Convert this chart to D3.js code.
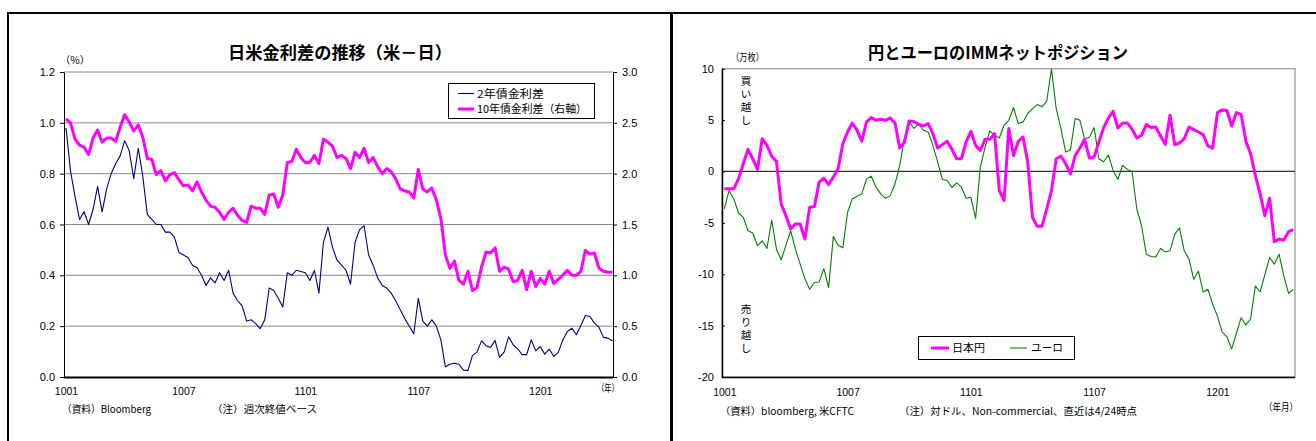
<!DOCTYPE html>
<html><head><meta charset="utf-8">
<script src="https://cdn.jsdelivr.net/npm/d3@7"></script>
<style>
html,body{margin:0;padding:0;background:#fff;}
svg{display:block;}
.jp{font-family:"Noto Sans CJK JP","Noto Sans",sans-serif;}
.num{font-family:"Liberation Sans",Arial,sans-serif;}
</style></head><body>
<svg id="c" width="1316" height="441"></svg>
<script>
// ---- 日米金利差（週次終値） ----
const spreadTickLabels = ["1001", "1007", "1101", "1107", "1201"];
const spreadTickIdx = [0, 26, 53, 78, 105];
const spreadLeftTicks = [0, 0.2, 0.4, 0.6, 0.8, 1.0, 1.2];
const spreadRightTicks = [0, 0.5, 1.0, 1.5, 2.0, 2.5, 3.0];
// 2年債金利差（左軸, %）
const spread2y = [
  0.98, 0.81, 0.71, 0.62, 0.65, 0.60, 0.66, 0.75, 0.65, 0.74,
  0.80, 0.84, 0.87, 0.93, 0.89, 0.78, 0.90, 0.79, 0.64, 0.62,
  0.60, 0.60, 0.57, 0.57, 0.55, 0.49, 0.48, 0.47, 0.44, 0.43,
  0.40, 0.36, 0.39, 0.37, 0.41, 0.38, 0.42, 0.33, 0.30, 0.28,
  0.22, 0.225, 0.21, 0.19, 0.225, 0.35, 0.34, 0.31, 0.275, 0.41,
  0.40, 0.42, 0.415, 0.41, 0.38, 0.42, 0.33, 0.53, 0.59, 0.51,
  0.46, 0.44, 0.42, 0.365, 0.53, 0.58, 0.595, 0.48, 0.44, 0.39,
  0.36, 0.35, 0.33, 0.30, 0.265, 0.23, 0.20, 0.17, 0.31, 0.22,
  0.20, 0.225, 0.20, 0.146, 0.04, 0.05, 0.054, 0.05, 0.027, 0.026,
  0.085, 0.098, 0.142, 0.123, 0.116, 0.144, 0.077, 0.098, 0.158, 0.127,
  0.111, 0.088, 0.088, 0.146, 0.103, 0.12, 0.09, 0.11, 0.081, 0.097,
  0.146, 0.179, 0.192, 0.166, 0.203, 0.242, 0.238, 0.212, 0.196, 0.156,
  0.153, 0.142
];
// 10年債金利差（右軸, %）
const spread10y = [
  2.54, 2.50, 2.34, 2.28, 2.26, 2.19, 2.35, 2.43, 2.31, 2.35,
  2.35, 2.32, 2.46, 2.58, 2.51, 2.42, 2.48, 2.36, 2.15, 2.14,
  1.99, 2.03, 1.93, 1.99, 2.01, 1.94, 1.88, 1.89, 1.83, 1.92,
  1.82, 1.74, 1.68, 1.67, 1.62, 1.55, 1.62, 1.66, 1.59, 1.54,
  1.52, 1.68, 1.66, 1.66, 1.60, 1.79, 1.80, 1.67, 1.79, 2.11,
  2.12, 2.24, 2.16, 2.11, 2.11, 2.18, 2.10, 2.34, 2.31, 2.27,
  2.16, 2.18, 2.15, 2.05, 2.21, 2.16, 2.25, 2.11, 2.16, 2.07,
  2.00, 2.05, 2.02, 1.95, 1.85, 1.83, 1.82, 1.76, 2.04, 1.85,
  1.82, 1.86, 1.74, 1.56, 1.20, 1.07, 1.14, 0.95, 0.915, 1.04,
  0.85, 0.88, 1.08, 1.23, 1.22, 1.27, 1.04, 1.08, 1.06, 0.94,
  0.95, 1.05, 0.86, 1.04, 0.89, 0.97, 0.915, 1.04, 0.92, 0.96,
  1.00, 1.05, 1.00, 1.00, 1.04, 1.245, 1.21, 1.22, 1.07, 1.04,
  1.03, 1.03
];

// ---- IMMネットポジション（万枚） ----
const immTickLabels = ["1001", "1007", "1101", "1107", "1201"];
const immTickIdx = [0, 26, 52, 78, 104];
const immTicks = [10, 5, 0, -5, -10, -15, -20];
const yenNet = [
  -1.69, -1.69, -1.69, -0.72, 0.75, 2.15, 1.24, 0.2, 3.19, 2.54,
  1.47, 0.98, -3.16, -4.3, -5.6, -5.11, -5.11, -6.58, -3.49, -3.42,
  -1.04, -0.65, -1.27, -0.55, 0.26, 2.70, 3.84, 4.72, 4.0, 2.96,
  4.82, 5.24, 4.98, 5.08, 4.98, 5.21, 4.72, 2.28, 2.87, 4.92,
  4.85, 4.59, 4.43, 4.66, 3.68, 2.28, 2.61, 2.93, 2.15, 1.24,
  1.24, 2.87, 3.91, 2.54, 2.05, 3.13, 3.13, 3.68, -1.86, -2.83,
  4.17, 1.56, 2.93, 3.36, 0.91, -4.46, -5.34, -5.34, -3.65, -1.86,
  1.24, 1.50, 0.75, -0.23, 1.56, 2.28, 3.13, 1.30, 1.40, 2.87,
  4.25, 5.2, 5.86, 4.23, 4.72, 4.72, 4.10, 3.26, 3.52, 4.56,
  4.27, 4.33, 3.45, 2.64, 5.47, 2.61, 2.77, 3.19, 4.33, 4.07,
  3.84, 3.58, 2.48, 2.28, 5.73, 5.99, 5.93, 4.43, 5.73, 5.54,
  2.93, 1.73, -0.39, -2.18, -4.3, -2.61, -6.84, -6.58, -6.68, -5.86,
  -5.67
];
const euroNet = [
  -3.65, -1.86, -2.67, -4.04, -4.46, -5.77, -5.99, -7.23, -6.74, -7.49,
  -4.72, -7.56, -8.6, -7.17, -5.77, -7.56, -9.02, -10.42, -11.47, -10.81,
  -10.75, -9.45, -11.3, -6.32, -7.17, -7.43, -3.97, -2.67, -2.41, -2.18,
  -0.72, -0.46, -1.53, -2.18, -2.61, -2.35, -1.2, 0.59, 3.19, 4.82,
  4.2, 4.66, 4.01, 3.84, 2.54, 0.91, -0.78, -0.88, -1.56, -1.11,
  -1.53, -2.61, -2.51, -4.56, 0.42, 2.38, 3.94, 3.52, 3.26, 4.50,
  4.98, 6.22, 4.66, 4.82, 5.64, 6.12, 6.51, 6.29, 6.84, 9.97,
  6.12, 4.17, 1.89, 2.12, 5.15, 4.98, 3.13, 3.36, 4.27, 1.24,
  0.95, 1.6, 0.10, -0.78, 0.59, 0.2, 0.0, -3.65, -5.28, -8.05,
  -8.27, -8.31, -7.49, -7.82, -7.72, -6.09, -5.5, -7.72, -8.53, -10.49,
  -9.71, -11.73, -11.47, -12.93, -14.07, -15.64, -16.09, -17.26, -15.77, -14.23,
  -14.95, -14.33, -11.14, -11.73, -10.03, -8.37, -9.02, -8.05, -10.16, -11.86,
  -11.47
];

const MAGENTA = "#ff00ff", NAVY = "#000080", GREEN = "#008000", GRID = "#8a8a8a";
const svg = d3.select("#c");

function txt(g, x, y, s, o = {}) {
  const t = g.append("text").attr("x", x).attr("y", y).text(s)
    .attr("class", o.cls || "jp")
    .attr("font-size", o.size || 10)
    .attr("fill", "#000");
  if (o.anchor) t.attr("text-anchor", o.anchor);
  if (o.weight) t.attr("font-weight", o.weight);
  if (o.len) t.attr("textLength", o.len).attr("lengthAdjust", "spacingAndGlyphs");
  return t;
}

// panel frames
svg.append("line").attr("x1", 7).attr("x2", 1316).attr("y1", 13).attr("y2", 13)
  .attr("stroke", "#000").attr("stroke-width", 2);
svg.append("line").attr("x1", 8).attr("x2", 8).attr("y1", 12).attr("y2", 441)
  .attr("stroke", "#000").attr("stroke-width", 2);
svg.append("line").attr("x1", 671.5).attr("x2", 671.5).attr("y1", 12).attr("y2", 441)
  .attr("stroke", "#000").attr("stroke-width", 3);

// ================= left: 日米金利差の推移 =================
{
  const g = svg.append("g");
  const P = { l: 64, r: 613, t: 72, b: 377 };
  const x = d3.scaleLinear().domain([0, spread2y.length - 1]).range([66, 612.5]);
  const yL = d3.scaleLinear().domain([0, 1.2]).range([P.b, P.t]);
  const yR = d3.scaleLinear().domain([0, 3.0]).range([P.b, P.t]);

  g.append("g").selectAll("line").data(spreadLeftTicks.filter(d => d > 0)).join("line")
    .attr("x1", P.l).attr("x2", P.r).attr("y1", d => yL(d)).attr("y2", d => yL(d))
    .attr("stroke", GRID).attr("stroke-width", 1);

  const axL = g.append("g").attr("transform", `translate(${P.l},0)`)
    .call(d3.axisLeft(yL).tickValues(spreadLeftTicks).tickFormat(d3.format(".1f"))
      .tickSizeInner(4).tickSizeOuter(0).tickPadding(5));
  const axR = g.append("g").attr("transform", `translate(${P.r},0)`)
    .call(d3.axisRight(yR).tickValues(spreadRightTicks).tickFormat(d3.format(".1f"))
      .tickSizeInner(4).tickSizeOuter(0).tickPadding(5));
  const axB = g.append("g").attr("transform", `translate(0,${P.b})`)
    .call(d3.axisBottom(x).tickValues(spreadTickIdx).tickFormat((d, i) => spreadTickLabels[i])
      .tickSize(0).tickPadding(11));
  axB.select(".domain").attr("d", `M${P.l},0.5H${P.r}`).attr("stroke-width", 2);
  [axL, axR, axB].forEach(a => {
    a.selectAll("text").attr("class", "num").attr("font-size", 11).attr("fill", "#000");
    a.selectAll(".domain").attr("stroke", "#000");
  });
  axB.selectAll("text").attr("font-size", 10.5);

  g.append("path").datum(spread2y)
    .attr("fill", "none").attr("stroke", NAVY).attr("stroke-width", 1.1)
    .attr("stroke-linejoin", "round")
    .attr("d", d3.line().x((d, i) => x(i)).y(d => yL(d)));
  g.append("path").datum(spread10y)
    .attr("fill", "none").attr("stroke", MAGENTA).attr("stroke-width", 3)
    .attr("stroke-linejoin", "round")
    .attr("d", d3.line().x((d, i) => x(i)).y(d => yR(d)));

  // legend
  g.append("rect").attr("x", 448.5).attr("y", 83.5).attr("width", 146).attr("height", 35)
    .attr("fill", "#fff").attr("stroke", "#000").attr("stroke-width", 1);
  g.append("line").attr("x1", 458).attr("x2", 474).attr("y1", 93.5).attr("y2", 93.5)
    .attr("stroke", NAVY).attr("stroke-width", 1.1);
  g.append("line").attr("x1", 458).attr("x2", 474).attr("y1", 109).attr("y2", 109)
    .attr("stroke", MAGENTA).attr("stroke-width", 3);
  txt(g, 477, 97.5, "2年債金利差", { size: 11, len: 67 });
  txt(g, 477, 113, "10年債金利差（右軸）", { size: 11, len: 110 });

  txt(g, 228, 59, "日米金利差の推移（米－日）", { size: 17, weight: 700, len: 224 });
  txt(g, 60, 64, "（%）", { size: 10, len: 30 });
  txt(g, 597, 392, "（年）", { size: 10, len: 22 });
  txt(g, 62, 413, "（資料）Bloomberg", { size: 10, len: 89 });
  txt(g, 212, 413, "（注）週次終値ベース", { size: 10, len: 105 });
}

// ================= right: 円とユーロのIMMネットポジション =================
{
  const g = svg.append("g");
  const P = { l: 722, r: 1295, t: 68.7, b: 377 };
  const x = d3.scaleLinear().domain([0, yenNet.length - 1]).range([724.3, 1293.3]);
  const y = d3.scaleLinear().domain([-20, 10]).range([P.b, P.t]);

  g.append("rect").attr("x", P.l).attr("y", P.t).attr("width", P.r - P.l).attr("height", P.b - P.t)
    .attr("fill", "none").attr("stroke", "#a6a6a6").attr("stroke-width", 1.5);
  g.append("line").attr("x1", P.l).attr("x2", P.r).attr("y1", y(0)).attr("y2", y(0))
    .attr("stroke", "#333").attr("stroke-width", 1.3);

  const axL = g.append("g").attr("transform", `translate(${P.l},0)`)
    .call(d3.axisLeft(y).tickValues(immTicks).tickFormat(d => String(d))
      .tickSizeInner(-3).tickSizeOuter(0).tickPadding(8));
  const axB = g.append("g").attr("transform", `translate(0,${P.b})`)
    .call(d3.axisBottom(x).tickValues(immTickIdx).tickFormat((d, i) => immTickLabels[i])
      .tickSize(0).tickPadding(12));
  axB.select(".domain").attr("d", `M${P.l},0.5H${P.r}`).attr("stroke-width", 1.5);
  axL.select(".domain").attr("stroke-width", 1.5);
  [axL, axB].forEach(a => {
    a.selectAll("text").attr("class", "num").attr("font-size", 11).attr("fill", "#000");
    a.selectAll(".domain").attr("stroke", "#000");
  });
  axB.selectAll("text").attr("font-size", 10.5);

  g.append("path").datum(euroNet)
    .attr("fill", "none").attr("stroke", GREEN).attr("stroke-width", 1.1)
    .attr("stroke-linejoin", "round")
    .attr("d", d3.line().x((d, i) => x(i)).y(d => y(d)));
  g.append("path").datum(yenNet)
    .attr("fill", "none").attr("stroke", MAGENTA).attr("stroke-width", 3)
    .attr("stroke-linejoin", "round")
    .attr("d", d3.line().x((d, i) => x(i)).y(d => y(d)));

  // stacked side notes, one glyph per line
  const vert = (chars, y0) => {
    chars.split("").forEach((c, i) =>
      g.append("text").attr("class", "jp").attr("font-size", 10.5)
        .attr("text-anchor", "middle").attr("fill", "#000")
        .attr("x", 746).attr("y", y0 + i * 13).text(c));
  };
  vert("買い越し", 85);
  vert("売り越し", 313);

  // legend
  g.append("rect").attr("x", 918.5).attr("y", 336.5).attr("width", 156).attr("height", 23)
    .attr("fill", "#fff").attr("stroke", "#000").attr("stroke-width", 1);
  g.append("line").attr("x1", 931).attr("x2", 949).attr("y1", 348).attr("y2", 348)
    .attr("stroke", MAGENTA).attr("stroke-width", 3);
  g.append("line").attr("x1", 1010).attr("x2", 1027).attr("y1", 348).attr("y2", 348)
    .attr("stroke", GREEN).attr("stroke-width", 1.1);
  txt(g, 952, 352, "日本円", { size: 11, len: 33 });
  txt(g, 1031, 352, "ユーロ", { size: 11, len: 32 });

  txt(g, 868, 59, "円とユーロのIMMネットポジション", { size: 17, weight: 700, len: 260 });
  txt(g, 731, 61, "（万枚）", { size: 10, len: 33 });
  txt(g, 720, 415, "（資料）bloomberg, 米CFTC", { size: 10, len: 134 });
  txt(g, 899, 415, "（注）対ドル、Non-commercial、直近は4/24時点", { size: 10, len: 238 });
  txt(g, 1264, 411, "（年月）", { size: 10, len: 34 });
}
</script>
</body></html>
